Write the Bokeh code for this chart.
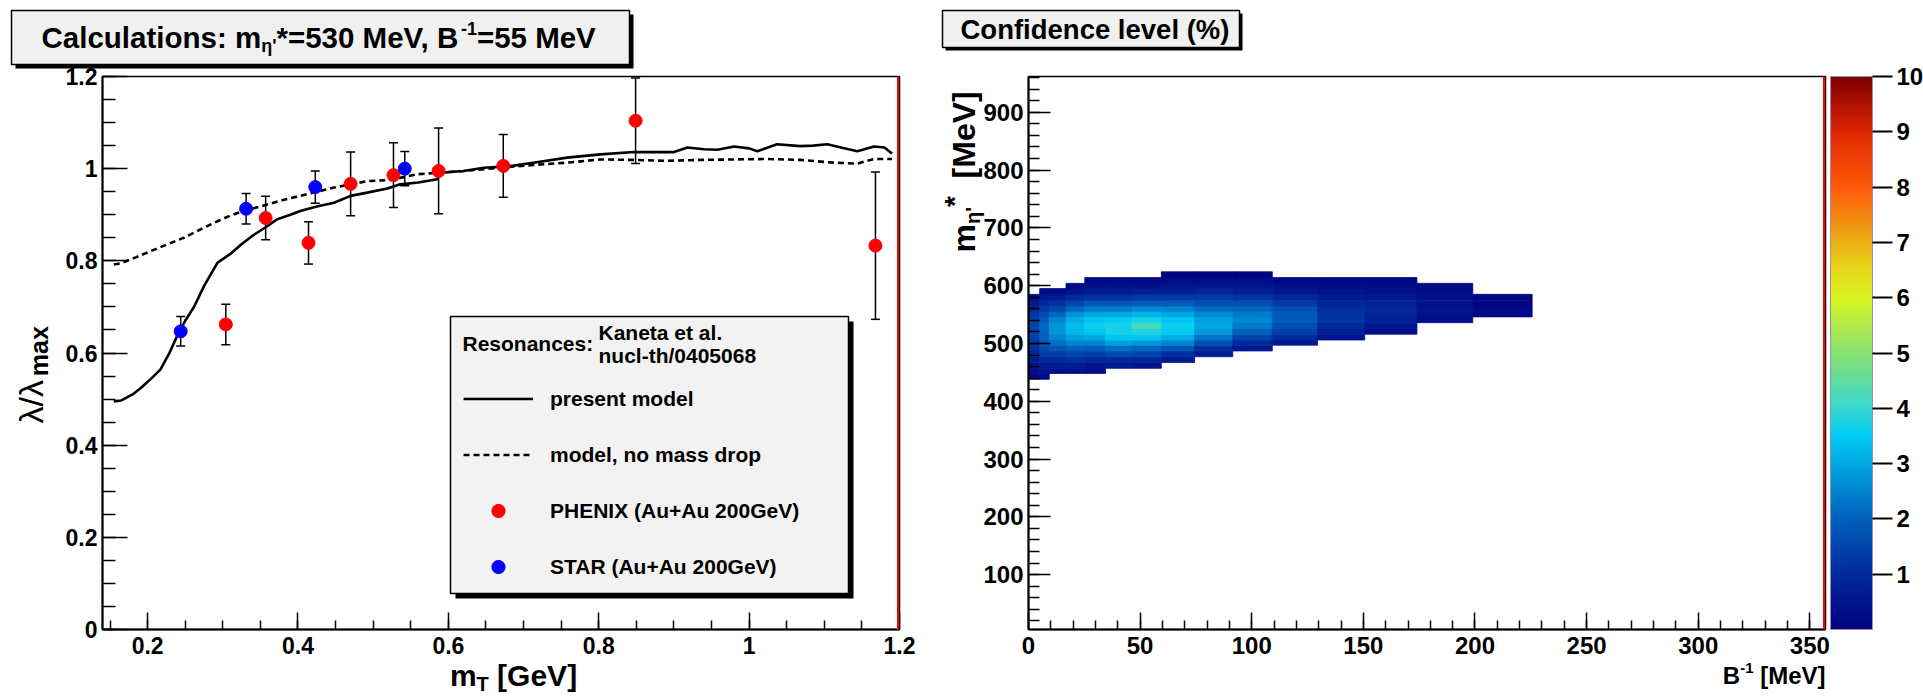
import math
import numpy as np
from bokeh.plotting import figure
from bokeh.layouts import row
from bokeh.models import (ColumnDataSource, Whisker, TeeHead, Label, BoxAnnotation,
                          Legend, LegendItem, FixedTicker, LinearAxis,
                          NumeralTickFormatter, LinearColorMapper, ColorBar, Range1d)
from bokeh.embed import file_html
from bokeh.resources import INLINE

# ---------------- data: left panel ----------------
model_x = [0.155, 0.165, 0.18, 0.191, 0.205, 0.217, 0.229, 0.239, 0.25, 0.262, 0.275, 0.293,
           0.31, 0.324, 0.34, 0.359, 0.372, 0.39, 0.403, 0.425, 0.448, 0.47, 0.492, 0.519,
           0.536, 0.56, 0.585, 0.59, 0.62, 0.647, 0.68, 0.713, 0.758, 0.802, 0.847, 0.875,
           0.9, 0.918, 0.94, 0.958, 0.98, 1.0, 1.011, 1.037, 1.068, 1.085, 1.104, 1.125,
           1.144, 1.166, 1.18, 1.19]
model_y = [0.495, 0.497, 0.51, 0.524, 0.545, 0.564, 0.6, 0.636, 0.67, 0.701, 0.745, 0.796,
           0.815, 0.835, 0.855, 0.875, 0.89, 0.9, 0.908, 0.918, 0.926, 0.941, 0.948, 0.957,
           0.966, 0.97, 0.977, 0.991, 0.995, 1.002, 1.005, 1.013, 1.024, 1.031, 1.036, 1.036,
           1.036, 1.046, 1.042, 1.041, 1.048, 1.044, 1.038, 1.053, 1.049, 1.05, 1.053, 1.045,
           1.038, 1.048, 1.046, 1.033]

nodrop_x = [0.155, 0.165, 0.185, 0.204, 0.225, 0.248, 0.27, 0.293, 0.31, 0.331, 0.359, 0.38,
            0.403, 0.425, 0.448, 0.47, 0.492, 0.519, 0.536, 0.559, 0.585, 0.62, 0.669, 0.713,
            0.758, 0.802, 0.847, 0.891, 0.935, 0.98, 1.024, 1.068, 1.113, 1.144, 1.166, 1.19]
nodrop_y = [0.792, 0.795, 0.808, 0.821, 0.835, 0.85, 0.868, 0.886, 0.898, 0.91, 0.922, 0.932,
            0.941, 0.95, 0.959, 0.966, 0.973, 0.975, 0.98, 0.988, 0.991, 0.995, 1.002, 1.008,
            1.013, 1.02, 1.019, 1.017, 1.019, 1.02, 1.021, 1.019, 1.013, 1.011, 1.021, 1.021]

phenix_x = [0.304, 0.357, 0.414, 0.470, 0.527, 0.587, 0.673, 0.849, 1.168]
phenix_y = [0.662, 0.893, 0.839, 0.967, 0.986, 0.995, 1.006, 1.104, 0.833]
phenix_err = [0.044, 0.047, 0.046, 0.069, 0.070, 0.093, 0.068, 0.093, 0.160]

star_x = [0.244, 0.331, 0.423, 0.542]
star_y = [0.647, 0.913, 0.960, 1.000]
star_err = [0.032, 0.033, 0.035, 0.037]

left_x_range = (0.14, 1.2)
left_y_range = (0.0, 1.2)
left_x_ticks = [0.2, 0.4, 0.6, 0.8, 1.0, 1.2]
left_y_ticks = [0.0, 0.2, 0.4, 0.6, 0.8, 1.0, 1.2]

# ---------------- data: right panel (confidence level, %) ----------------
b_edges = [0, 5, 9.3, 16.8, 25.2, 34.5, 46.4, 59.5, 74.4, 91.5, 109.2, 129.5, 150.6, 174, 199, 225.6]
m_edges = [428, 438, 448, 457, 467, 477, 487, 497, 506, 516, 526, 536, 546, 555, 565, 575,
           585, 595, 604, 614, 624]
col_row_start = [1, 1, 2, 2, 2, 3, 3, 4, 5, 6, 7, 8, 9, 11, 12]
cl_values = [
    [0.2, 0.3, 0.5, 0.7, 0.9, 1.1, 1.3, 1.4, 1.5, 1.5, 1.4, 1.2, 0.9, 0.6, 0.3],
    [0.3, 0.5, 0.7, 1.0, 1.3, 1.6, 1.8, 2.0, 2.1, 2.1, 1.9, 1.6, 1.3, 0.9, 0.6, 0.3],
    [0.4, 0.7, 1.0, 1.4, 1.8, 2.2, 2.5, 2.7, 2.7, 2.5, 2.1, 1.6, 1.1, 0.7, 0.3],
    [0.4, 0.7, 1.1, 1.5, 2.0, 2.5, 2.9, 3.2, 3.3, 3.1, 2.7, 2.1, 1.5, 1.0, 0.5, 0.3],
    [0.3, 0.5, 0.9, 1.4, 1.9, 2.5, 3.0, 3.4, 3.6, 3.4, 3.0, 2.4, 1.8, 1.2, 0.7, 0.4, 0.2],
    [0.6, 1.0, 1.6, 2.2, 2.9, 3.4, 3.7, 3.7, 3.5, 3.0, 2.4, 1.8, 1.2, 0.7, 0.4, 0.2],
    [0.5, 0.9, 1.5, 2.1, 2.8, 3.4, 3.8, 4.2, 3.7, 3.2, 2.6, 1.9, 1.3, 0.8, 0.4, 0.2],
    [0.6, 1.1, 1.8, 2.5, 3.1, 3.5, 3.6, 3.4, 3.0, 2.5, 1.9, 1.3, 0.8, 0.5, 0.3, 0.1],
    [0.6, 1.1, 1.7, 2.3, 2.8, 3.0, 2.9, 2.6, 2.2, 1.7, 1.3, 0.9, 0.5, 0.3, 0.1],
    [0.6, 1.0, 1.5, 2.0, 2.4, 2.5, 2.4, 2.1, 1.7, 1.2, 0.8, 0.5, 0.3, 0.1],
    [0.6, 1.0, 1.4, 1.7, 1.9, 1.9, 1.7, 1.3, 1.0, 0.6, 0.4, 0.2],
    [0.5, 0.8, 1.0, 1.2, 1.2, 1.1, 0.9, 0.7, 0.5, 0.3, 0.2],
    [0.4, 0.6, 0.8, 0.9, 0.9, 0.8, 0.6, 0.4, 0.3, 0.2],
    [0.3, 0.4, 0.5, 0.5, 0.4, 0.3, 0.2],
    [0.2, 0.2, 0.2, 0.2],
]
cbar_ticks = [1, 2, 3, 4, 5, 6, 7, 8, 9, 10]
right_x_range = (0, 357)
right_y_range = (5, 962)
right_x_ticks = [0, 50, 100, 150, 200, 250, 300, 350]
right_y_ticks = [100, 200, 300, 400, 500, 600, 700, 800, 900]

# ---------------- styling helpers ----------------
FONT = "Liberation Sans"
H = 696

BOLD_W = {' ': 278, "'": 238, '%': 889, '(': 333, ')': 333, '*': 389, ',': 278, '-': 333,
          '.': 278, '/': 278, ':': 333, '=': 584, '[': 333, ']': 333,
          'B': 722, 'C': 722, 'G': 778, 'M': 833, 'T': 611, 'V': 667,
          'a': 556, 'c': 556, 'd': 611, 'e': 556, 'f': 333, 'i': 278, 'l': 278, 'm': 889,
          'n': 611, 'o': 611, 's': 556, 't': 333, 'u': 611, 'v': 556, 'x': 556,
          'η': 611, 'λ': 556}
REG_W = {' ': 278, '/': 278, 'λ': 556, 'a': 556, 'x': 500, 'm': 833}


def text_w(s, size, bold=True):
    tab = BOLD_W if bold else REG_W
    return sum(tab.get(c, 556) for c in s) * size / 1000.0


def add_text(p, fx, x, y, text, size, bold=True, angle=0.0, align="left"):
    # x, y: page pixels (y down) of the text's left/centre point; frame = whole canvas
    p.add_layout(Label(x=x - fx, y=H - y, x_units="screen", y_units="screen", text=text,
                       text_font=FONT, text_font_size=f"{size}px",
                       text_font_style="bold" if bold else "normal",
                       angle=angle, text_align=align, text_baseline="middle",
                       text_color="black"))


def add_pieces(p, fx, x, y, pieces):
    for t, s, dy, b in pieces:
        st = t.lstrip()
        x += text_w(t[:len(t) - len(st)], s, b)
        add_text(p, fx, x, y + dy, st, s, b)
        x += text_w(st, s, b)


def pieces_width(pieces):
    return sum(text_w(t, s, b) for t, s, _, b in pieces)


def add_pieces_vert(p, fx, x, y, pieces):
    for t, s, dx, b in pieces:
        st = t.lstrip()
        y -= text_w(t[:len(t) - len(st)], s, b)
        add_text(p, fx, x + dx, y, st, s, b, angle=math.pi / 2)
        y -= text_w(st, s, b)


def add_box(p, fx, x0, y0, x1, y1, fill, line=None, lw=1.5):
    p.add_layout(BoxAnnotation(left=x0 - fx, right=x1 - fx, top=H - y0, bottom=H - y1,
                               left_units="screen", right_units="screen",
                               top_units="screen", bottom_units="screen",
                               fill_color=fill, fill_alpha=1.0,
                               line_color=line, line_alpha=1.0, line_width=lw))


def make_panel(fig_x, fig_w, fl, fr, ft, fb, xr, yr):
    """Figure whose frame is its whole canvas; the data box sits at page px fl..fr, ft..fb."""
    sx = (xr[1] - xr[0]) / (fr - fl)
    sy = (yr[1] - yr[0]) / (fb - ft)
    x_rng = Range1d(xr[0] - (fl - fig_x) * sx, xr[1] + (fig_x + fig_w - fr) * sx)
    y_rng = Range1d(yr[0] - (H - fb) * sy, yr[1] + ft * sy)
    p = figure(width=fig_w, height=H, x_range=x_rng, y_range=y_rng,
               x_axis_type=None, y_axis_type=None, output_backend="svg",
               toolbar_location=None, min_border=0, title=None)
    p.outline_line_color = None
    p.background_fill_color = "white"
    p.border_fill_color = "white"
    return p, sx, sy


def add_axes(p, xr, yr, xticks, xminor, yticks, yminor, tick_size, xtl, ytl, xfmt=None, yfmt=None):
    xa = LinearAxis(fixed_location=yr[0], bounds=xr,
                    ticker=FixedTicker(ticks=xticks, minor_ticks=xminor))
    ya = LinearAxis(fixed_location=xr[0], bounds=yr,
                    ticker=FixedTicker(ticks=yticks, minor_ticks=yminor))
    if xfmt is not None:
        xa.formatter = xfmt
    if yfmt is not None:
        ya.formatter = yfmt
    for ax, (mj, mn) in ((xa, xtl), (ya, ytl)):
        ax.axis_line_color = "black"
        ax.axis_line_width = 2
        ax.major_tick_line_color = "black"
        ax.minor_tick_line_color = "black"
        ax.major_tick_line_width = 1.5
        ax.minor_tick_line_width = 1.5
        ax.major_tick_out = 0
        ax.minor_tick_out = 0
        ax.major_tick_in = mj
        ax.minor_tick_in = mn
        ax.major_label_text_font = FONT
        ax.major_label_text_font_style = "bold"
        ax.major_label_text_font_size = f"{tick_size}px"
        ax.major_label_text_color = "black"
    xa.major_label_standoff = 7
    ya.major_label_standoff = 5
    p.add_layout(xa, "below")
    p.add_layout(ya, "left")
    p.add_layout(BoxAnnotation(left=xr[0], right=xr[1], bottom=yr[0], top=yr[1],
                               fill_alpha=0.0, line_color="black", line_alpha=1.0,
                               line_width=1.5))


def add_red_edge(p, xr, yr, sx):
    p.add_layout(BoxAnnotation(left=xr[1] - 2.5 * sx, right=xr[1] - 0.5 * sx,
                               bottom=yr[0], top=yr[1], fill_color="#ff0000",
                               fill_alpha=1.0, line_alpha=0.0))


# ================= left figure =================
L_X, L_W = 0, 935
L_FL, L_FR, L_FT, L_FB = 102, 899, 76, 629
p1, sx1, sy1 = make_panel(L_X, L_W, L_FL, L_FR, L_FT, L_FB, left_x_range, left_y_range)
x_minor = [round(0.15 + 0.05 * i, 2) for i in range(21)]
y_minor = [round(0.05 * i, 2) for i in range(25)]
add_axes(p1, left_x_range, left_y_range, left_x_ticks, x_minor, left_y_ticks, y_minor, 23,
         (17, 9), (25, 13), NumeralTickFormatter(format="0.[0]"),
         NumeralTickFormatter(format="0.[0]"))

src_ph = ColumnDataSource(dict(x=phenix_x, y=phenix_y,
                               lo=[y - e for y, e in zip(phenix_y, phenix_err)],
                               hi=[y + e for y, e in zip(phenix_y, phenix_err)]))
src_st = ColumnDataSource(dict(x=star_x, y=star_y,
                               lo=[y - e for y, e in zip(star_y, star_err)],
                               hi=[y + e for y, e in zip(star_y, star_err)]))
for s in (src_ph, src_st):
    w = Whisker(source=s, base="x", lower="lo", upper="hi", line_color="black",
                line_width=1.5, level="underlay",
                upper_head=TeeHead(size=9, line_color="black", line_width=1.5),
                lower_head=TeeHead(size=9, line_color="black", line_width=1.5))
    p1.add_layout(w)

r_model = p1.line(model_x, model_y, line_color="black", line_width=2.6)
r_nodrop = p1.line(nodrop_x, nodrop_y, line_color="black", line_width=2.6, line_dash="6 4")
r_ph = p1.scatter("x", "y", source=src_ph, marker="circle", size=13,
                  fill_color="#ff0000", line_color="#ff0000")
r_st = p1.scatter("x", "y", source=src_st, marker="circle", size=13,
                  fill_color="#0000ff", line_color="#0000ff")
add_red_edge(p1, left_x_range, left_y_range, sx1)

# legend box with shadow
add_box(p1, L_X, 455, 321, 853, 598, "black", None)
add_box(p1, L_X, 450, 316, 848, 593, "#f2f2f2", "black", 1.5)
add_text(p1, L_X, 462, 343, "Resonances:", 21, True)
add_text(p1, L_X, 598, 332, "Kaneta et al.", 21, True)
add_text(p1, L_X, 598, 355, "nucl-th/0405068", 21, True)

legend = Legend(items=[LegendItem(label="present model", renderers=[r_model]),
                       LegendItem(label="model, no mass drop", renderers=[r_nodrop]),
                       LegendItem(label="PHENIX (Au+Au 200GeV)", renderers=[r_ph]),
                       LegendItem(label="STAR (Au+Au 200GeV)", renderers=[r_st])],
                location=(463 - L_X, H - 583),
                background_fill_alpha=0.0, border_line_alpha=0.0,
                label_text_font=FONT, label_text_font_size="21px",
                label_text_font_style="bold", label_text_color="black",
                glyph_width=70, glyph_height=33, label_height=20, label_standoff=17,
                spacing=23, padding=0, margin=0)
p1.add_layout(legend)

# title box
add_box(p1, L_X, 15, 14, 633, 68, "black", None)
add_box(p1, L_X, 11, 10, 629, 64, "#f0f0f0", "black", 1.5)
add_pieces(p1, L_X, 41, 37, [("Calculations: m", 29.5, 0, True), ("η'", 18, 8, True),
                             ("*=530 MeV, B", 29.5, 0, True), ("-1", 18, -9, True),
                             ("=55 MeV", 29.5, 0, True)])
# axis titles
mt = [("m", 30, 0, True), ("T", 20, 8, True), (" [GeV]", 30, 0, True)]
add_pieces(p1, L_X, 513 - pieces_width(mt) / 2, 675, mt)
add_pieces_vert(p1, L_X, 30, 423, [("λ/λ", 34, 0, False), ("max", 25, 8, True)])

# ================= right figure =================
R_X, R_W = 935, 988
R_FL, R_FR, R_FT, R_FB = 1028, 1825, 76, 629
p2, sx2, sy2 = make_panel(R_X, R_W, R_FL, R_FR, R_FT, R_FB, right_x_range, right_y_range)
rx_minor = list(range(10, 360, 10))
ry_minor = list(range(20, 962, 20))
add_axes(p2, right_x_range, right_y_range, right_x_ticks, rx_minor, right_y_ticks, ry_minor, 24,
         (17, 9), (22, 11))

anchors = [(0.0, '#000080'), (1.0, '#002a9c'), (2.0, '#0060bc'), (3.0, '#00a8e4'),
           (3.5, '#00ccf4'), (4.0, '#38d8d0'), (5.0, '#88e070'), (6.0, '#d8f420'),
           (6.5, '#e6d81c'), (7.0, '#eab014'), (8.0, '#ff5a0a'), (9.0, '#e02800'),
           (10.0, '#800000')]
av = [a for a, _ in anchors]
ac = np.array([[int(c[i:i + 2], 16) for i in (1, 3, 5)] for _, c in anchors], dtype=float)
palette = ['#%02x%02x%02x' % tuple(int(round(np.interp(v, av, ac[:, k]))) for k in range(3))
           for v in np.linspace(0, 10, 256)]
mapper = LinearColorMapper(palette=palette, low=0, high=10)

ql, qr, qb, qt, qv = [], [], [], [], []
for ci, col in enumerate(cl_values):
    r0 = col_row_start[ci]
    for j, v in enumerate(col):
        ql.append(b_edges[ci]); qr.append(b_edges[ci + 1])
        qb.append(m_edges[r0 + j]); qt.append(m_edges[r0 + j + 1]); qv.append(v)
src_h = ColumnDataSource(dict(left=ql, right=qr, bottom=qb, top=qt, v=qv))
p2.quad(left="left", right="right", bottom="bottom", top="top", source=src_h,
        fill_color={"field": "v", "transform": mapper},
        line_color={"field": "v", "transform": mapper}, line_width=0.8)
add_red_edge(p2, right_x_range, right_y_range, sx2)

cbar = ColorBar(color_mapper=mapper, ticker=FixedTicker(ticks=cbar_ticks), width=42,
                height=R_FB - R_FT, location=(1830 - R_X, H - R_FB),
                margin=0, padding=0, label_standoff=4,
                major_label_text_font=FONT, major_label_text_font_size="24px",
                major_label_text_font_style="bold", major_label_text_color="black",
                major_tick_in=0, major_tick_out=20, major_tick_line_color="black",
                major_tick_line_width=2, bar_line_color="#9090b0", bar_line_width=1,
                background_fill_alpha=0.0, border_line_color=None)
p2.add_layout(cbar)

add_box(p2, R_X, 945, 13, 1242, 50, "black", None)
add_box(p2, R_X, 942, 10, 1239, 47, "#f0f0f0", "black", 1.5)
add_text(p2, R_X, 960, 29, "Confidence level (%)", 27.5, True)

xt = [("B", 24, 0, True), ("-1", 15, -8, True), (" [MeV]", 24, 0, True)]
add_pieces(p2, R_X, R_FR - pieces_width(xt), 675, xt)
add_pieces_vert(p2, R_X, 963, 252, [("m", 32, 0, True), ("η'", 20, 9, True),
                                    ("*", 28, -9, True), ("  [MeV]", 32, 0, True)])

layout = row(p1, p2)
open("out.html", "w").write(file_html(layout, INLINE))
